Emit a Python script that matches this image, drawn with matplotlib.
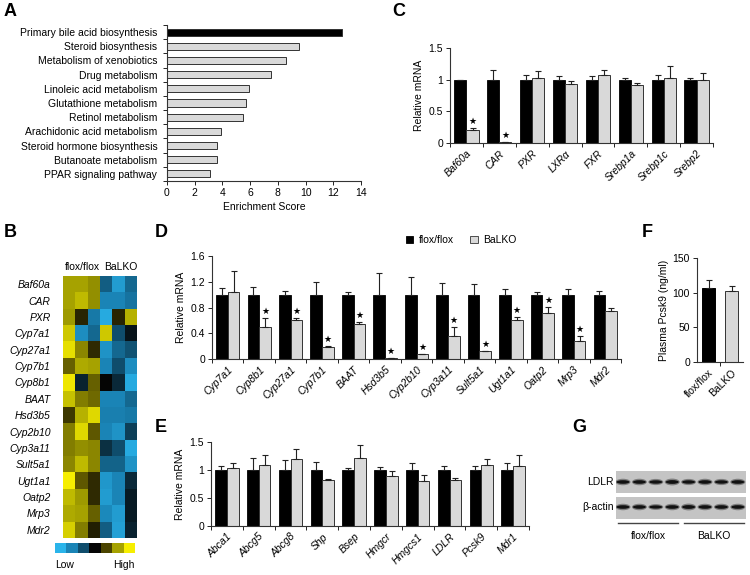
import numpy as np
import matplotlib
matplotlib.use('Agg')
import matplotlib.pyplot as plt
from matplotlib.colors import LinearSegmentedColormap, ListedColormap
from matplotlib.patches import Rectangle, Ellipse
from matplotlib.lines import Line2D

plt.rcParams['font.family'] = ['Liberation Sans', 'DejaVu Sans']
plt.rcParams['font.size'] = 7.5
plt.rcParams['axes.linewidth'] = 0.8
plt.rcParams['axes.edgecolor'] = '#333333'

# ---- data ----
# A: KEGG pathway enrichment
pathways = ['Primary bile acid biosynthesis', 'Steroid biosynthesis', 'Metabolism of xenobiotics',
            'Drug metabolism', 'Linoleic acid metabolism', 'Glutathione metabolism',
            'Retinol metabolism', 'Arachidonic acid metabolism', 'Steroid hormone biosynthesis',
            'Butanoate metabolism', 'PPAR signaling pathway']
enrichment = [12.6, 9.5, 8.6, 7.5, 5.9, 5.7, 5.5, 3.9, 3.6, 3.6, 3.1]

# B: heatmap (3 flox/flox, 3 BaLKO), scaled expression
hm_genes = ['Baf60a', 'CAR', 'PXR', 'Cyp7a1', 'Cyp27a1', 'Cyp7b1', 'Cyp8b1', 'BAAT', 'Hsd3b5',
            'Cyp2b10', 'Cyp3a11', 'Sult5a1', 'Ugt1a1', 'Oatp2', 'Mrp3', 'Mdr2']
hm_values = [
    [2.0, 2.0, 1.8, -1.3, -2.5, -1.5],
    [2.0, 2.3, 1.8, -2.0, -2.0, -1.7],
    [1.9, 0.5, -1.8, -2.8, 0.5, 2.2],
    [2.5, -2.2, -1.5, 2.5, -1.0, -0.2],
    [2.8, 1.7, 0.6, -2.3, -1.5, -1.1],
    [1.3, 2.1, 2.0, -2.0, -1.0, -2.2],
    [2.9, -0.4, 1.3, 0.0, -0.5, -2.8],
    [2.4, 1.6, 1.4, -2.0, -2.0, -1.5],
    [0.8, 2.2, 2.7, -1.9, -1.9, -1.8],
    [1.6, 2.7, 1.2, -2.0, -2.3, -0.8],
    [1.6, 1.8, 1.7, -0.6, -1.0, -2.8],
    [1.7, 2.3, 1.7, -1.4, -1.4, -2.3],
    [3.0, 1.2, 0.6, -2.4, -2.0, -0.5],
    [2.3, 1.9, 0.6, -2.5, -2.0, -0.3],
    [2.1, 2.0, 1.3, -2.1, -2.5, -0.3],
    [2.6, 1.6, 0.4, -1.3, -2.6, -0.4],
]
hm_colors = ['#2ab4ea', '#1a84b6', '#0f4d6c', '#050505', '#4b4400', '#a6a200', '#f6ee00']

# C: transcription factors
c_genes = ['Baf60a', 'CAR', 'PXR', 'LXR\u03b1', 'FXR', 'Srebp1a', 'Srebp1c', 'Srebp2']
c_wt_err = [0.0, 0.15, 0.08, 0.06, 0.05, 0.02, 0.07, 0.03]
c_ko = [0.20, 0.02, 1.02, 0.93, 1.07, 0.91, 1.02, 0.99]
c_ko_err = [0.03, 0.0, 0.11, 0.05, 0.08, 0.04, 0.20, 0.11]
c_star = [True, True, False, False, False, False, False, False]

# D: bile acid metabolism genes
d_genes = ['Cyp7a1', 'Cyp8b1', 'Cyp27a1', 'Cyp7b1', 'BAAT', 'Hsd3b5', 'Cyp2b10', 'Cyp3a11',
           'Sult5a1', 'Ugt1a1', 'Oatp2', 'Mrp3', 'Mdr2']
d_wt_err = [0.11, 0.12, 0.06, 0.20, 0.04, 0.33, 0.28, 0.18, 0.16, 0.09, 0.04, 0.08, 0.05]
d_ko = [1.04, 0.49, 0.60, 0.18, 0.54, 0.01, 0.07, 0.35, 0.12, 0.60, 0.72, 0.28, 0.75]
d_ko_err = [0.32, 0.15, 0.04, 0.02, 0.04, 0.0, 0.01, 0.14, 0.01, 0.05, 0.09, 0.07, 0.05]
d_star = [False, True, True, True, True, True, True, True, True, True, True, True, False]

# E: cholesterol / transport genes
e_genes = ['Abca1', 'Abcg5', 'Abcg8', 'Shp', 'Bsep', 'Hmgcr', 'Hmgcs1', 'LDLR', 'Pcsk9', 'Mdr1']
e_wt_err = [0.08, 0.22, 0.18, 0.15, 0.03, 0.05, 0.12, 0.08, 0.07, 0.12]
e_ko = [1.04, 1.09, 1.20, 0.82, 1.21, 0.89, 0.80, 0.83, 1.09, 1.07]
e_ko_err = [0.09, 0.17, 0.17, 0.02, 0.23, 0.10, 0.11, 0.03, 0.11, 0.20]

# F: plasma Pcsk9
f_groups = ['flox/flox', 'BaLKO']
f_vals = [107, 103]
f_err = [11, 7]

# G: western blot band strength per lane (4 flox/flox, 4 BaLKO)
ldlr_band = [1.0, 1.0, 0.95, 1.05, 0.95, 1.0, 0.95, 1.0]
actin_band = [1.0, 1.0, 0.9, 1.0, 1.05, 1.0, 1.0, 1.0]

GREY = '#d9d9d9'
EDGE = '#333333'

W, H = 750, 575
fig = plt.figure(figsize=(7.5, 5.75), dpi=100)


def px_axes(left, top, right, bottom):
    return fig.add_axes([left / W, 1 - bottom / H, (right - left) / W, (bottom - top) / H])


def letter(x, y, s):
    fig.text(x / W, 1 - y / H, s, fontsize=13, fontweight='bold', ha='left', va='center')


def clean(ax):
    ax.spines['top'].set_visible(False)
    ax.spines['right'].set_visible(False)


def pair_bars(ax, genes, wt_err, ko, ko_err, ymax, yticks, ytlabels, stars=None, italic=True):
    n = len(genes)
    x = np.arange(n)
    w = 0.37
    ekw = dict(ecolor='#222222', elinewidth=0.8, capsize=2.5, capthick=0.8)
    ax.bar(x - 0.185, np.ones(n), w, color='black', edgecolor='black', lw=0.6,
           yerr=[np.zeros(n), wt_err], error_kw=ekw)
    ax.bar(x + 0.185, ko, w, color=GREY, edgecolor=EDGE, lw=0.7,
           yerr=[np.zeros(n), ko_err], error_kw=ekw)
    if stars is not None:
        for i in range(n):
            if stars[i]:
                ax.annotate('\u2605', xy=(x[i] + 0.185, ko[i] + ko_err[i]), xytext=(0, 1.5),
                            textcoords='offset points', ha='center', va='bottom',
                            fontsize=6.5, family='DejaVu Sans')
    ax.set_xlim(-0.5, n - 0.5)
    ax.set_ylim(0, ymax)
    ax.set_yticks(yticks)
    ax.set_yticklabels(ytlabels)
    ax.set_xticks(x)
    ax.set_xticklabels(genes, rotation=45, ha='right', rotation_mode='anchor',
                       style='italic' if italic else 'normal')
    ax.set_xticks(np.arange(-0.5, n, 1.0), minor=True)
    ax.tick_params(axis='x', which='major', length=0, pad=4)
    ax.tick_params(axis='x', which='minor', length=3, width=0.6, direction='out')
    ax.tick_params(axis='y', length=3, width=0.6, direction='out', pad=2)
    ax.set_ylabel('Relative mRNA', labelpad=3)
    clean(ax)


# ---- A ----
axA = px_axes(167, 25, 361, 181)
ya = np.arange(len(pathways))
axA.barh(ya, enrichment, height=0.5, color=['black'] + [GREY] * (len(pathways) - 1),
         edgecolor=EDGE, lw=0.7)
axA.set_ylim(len(pathways) - 0.5, -0.5)
axA.set_xlim(0, 14)
axA.set_xticks(np.arange(0, 15, 2))
axA.set_yticks(ya)
axA.set_yticklabels(pathways)
axA.set_yticks(np.arange(-0.5, len(pathways), 1.0), minor=True)
axA.tick_params(axis='y', which='major', length=0, pad=7)
axA.tick_params(axis='y', which='minor', length=3, width=0.6, direction='out')
axA.tick_params(axis='x', length=3, width=0.6, direction='out', pad=2)
axA.set_xlabel('Enrichment Score', labelpad=3)
clean(axA)
letter(4, 12, 'A')

# ---- B ----
axB = px_axes(63, 276, 137, 538)
cmap = LinearSegmentedColormap.from_list('bl_yl', hm_colors)
axB.imshow(np.array(hm_values), cmap=cmap, vmin=-3, vmax=3, aspect='auto', interpolation='nearest')
axB.set_yticks(np.arange(len(hm_genes)))
axB.set_yticklabels(hm_genes, style='italic')
axB.set_xticks([])
axB.tick_params(axis='y', length=0, pad=9)
for s in axB.spines.values():
    s.set_visible(False)
axB.text(1.1, -0.75, 'flox/flox', ha='center', va='bottom')
axB.text(4.2, -0.75, 'BaLKO', ha='center', va='bottom')

axCb = px_axes(55, 543, 135, 553)
axCb.imshow(np.arange(len(hm_colors))[None, :], cmap=ListedColormap(hm_colors),
            aspect='auto', interpolation='nearest')
axCb.axis('off')
fig.text(65 / W, 1 - 565 / H, 'Low', ha='center', va='center')
fig.text(124 / W, 1 - 565 / H, 'High', ha='center', va='center')
letter(4, 232, 'B')

# ---- C ----
axC = px_axes(450, 48, 713, 143)
pair_bars(axC, c_genes, c_wt_err, c_ko, c_ko_err, 1.5, [0, 0.5, 1, 1.5], ['0', '0.5', '1', '1.5'],
          stars=c_star)
letter(392, 12, 'C')

# ---- D ----
axD = px_axes(212, 256, 621, 359)
pair_bars(axD, d_genes, d_wt_err, d_ko, d_ko_err, 1.6, [0, 0.4, 0.8, 1.2, 1.6],
          ['0', '0.4', '0.8', '1.2', '1.6'], stars=d_star)
handles = [Rectangle((0, 0), 1, 1, fc='black', ec='black', lw=0.6),
           Rectangle((0, 0), 1, 1, fc=GREY, ec=EDGE, lw=0.6)]
fig.legend(handles, ['flox/flox', 'BaLKO'], loc='center', bbox_to_anchor=(461 / W, 1 - 240 / H),
           ncol=2, frameon=False, handlelength=0.7, handleheight=0.7, handletextpad=0.5,
           columnspacing=1.6, fontsize=7.5)
letter(155, 232, 'D')

# ---- E ----
axE = px_axes(211, 442, 529, 526)
pair_bars(axE, e_genes, e_wt_err, e_ko, e_ko_err, 1.5, [0, 0.5, 1, 1.5], ['0', '0.5', '1', '1.5'])
letter(155, 427, 'E')

# ---- F ----
axF = px_axes(697, 258, 743, 362)
xf = np.arange(len(f_groups))
axF.bar(xf, f_vals, 0.55, color=['black', GREY], edgecolor=['black', EDGE], lw=0.7,
        yerr=[[0, 0], f_err], error_kw=dict(ecolor='#222222', elinewidth=0.8, capsize=2.5, capthick=0.8))
axF.set_xlim(-0.5, 1.5)
axF.set_ylim(0, 150)
axF.set_yticks([0, 50, 100, 150])
axF.set_xticks(xf)
axF.set_xticklabels(f_groups, rotation=45, ha='right', rotation_mode='anchor')
axF.set_xticks([0.5], minor=True)
axF.tick_params(axis='x', which='major', length=0, pad=4)
axF.tick_params(axis='x', which='minor', length=3, width=0.6, direction='out')
axF.tick_params(axis='y', length=3, width=0.6, direction='out', pad=2)
axF.set_ylabel('Plasma Pcsk9 (ng/ml)', labelpad=3)
clean(axF)
letter(642, 232, 'F')

# ---- G: western blot ----
axG = px_axes(616, 471, 746, 519)
axG.set_xlim(0, 130)
axG.set_ylim(48, 0)
axG.axis('off')
axG.add_patch(Rectangle((0, 0), 130, 22, fc='#c4c4c4', ec='none'))
axG.add_patch(Rectangle((0, 26), 130, 22, fc='#c4c4c4', ec='none'))
lane_x = 7 + 16.4 * np.arange(8)
for i, cx in enumerate(lane_x):
    for yc, k in ((11, ldlr_band[i]), (36, actin_band[i])):
        axG.add_patch(Ellipse((cx, yc), 15, 6.5 * k, fc='#3a3a3a', ec='none', alpha=0.5))
        axG.add_patch(Ellipse((cx, yc), 13, 3.6 * k, fc='#111111', ec='none'))
fig.text(614 / W, 1 - 482 / H, 'LDLR', ha='right', va='center')
fig.text(614 / W, 1 - 507 / H, '\u03b2-actin', ha='right', va='center')
for x1, x2 in ((618, 678), (684, 744)):
    fig.add_artist(Line2D([x1 / W, x2 / W], [1 - 523 / H] * 2, color='#444444', lw=1))
fig.text(648 / W, 1 - 536 / H, 'flox/flox', ha='center', va='center')
fig.text(714 / W, 1 - 536 / H, 'BaLKO', ha='center', va='center')
letter(572, 427, 'G')

fig.savefig('out.png', dpi=100)
